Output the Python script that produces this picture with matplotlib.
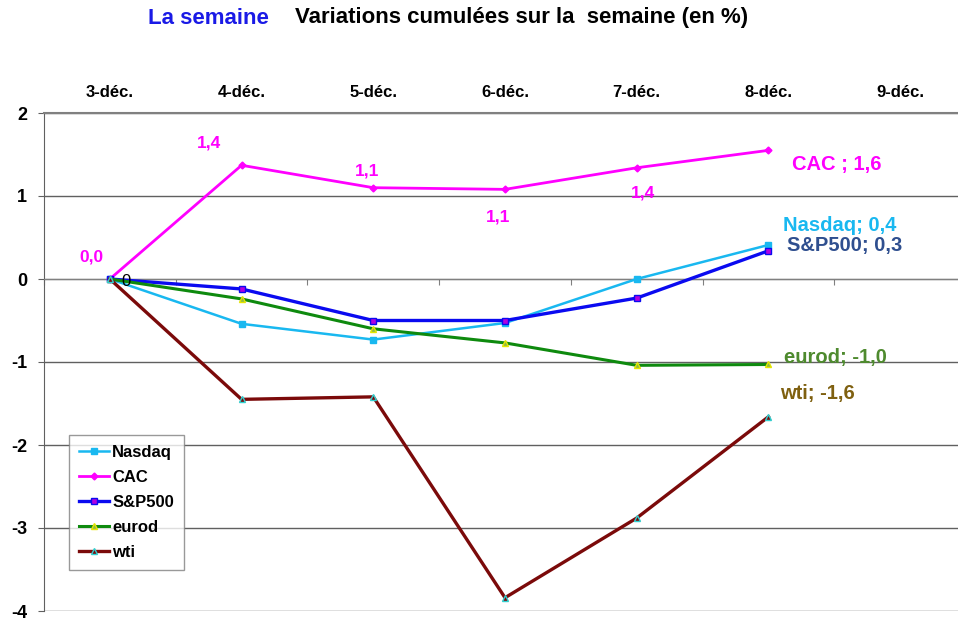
import numpy as np
import matplotlib.pyplot as plt

plt.rcParams['font.family'] = ['Liberation Sans', 'DejaVu Sans']
plt.rcParams['font.weight'] = 'bold'
plt.rcParams['axes.unicode_minus'] = False

days = ['3-déc.', '4-déc.', '5-déc.', '6-déc.', '7-déc.', '8-déc.', '9-déc.']
nasdaq = [0.0, -0.54, -0.73, -0.53, 0.0, 0.41]
cac = [0.0, 1.37, 1.10, 1.08, 1.34, 1.55]
sp500 = [0.0, -0.12, -0.50, -0.50, -0.23, 0.34]
eurod = [0.0, -0.24, -0.60, -0.77, -1.04, -1.03]
wti = [0.0, -1.45, -1.42, -3.84, -2.88, -1.66]

cac_labels = ['0,0', '1,4', '1,1', '1,1', '1,4']
end_labels = ['Nasdaq; 0,4', 'CAC ; 1,6', 'S&P500; 0,3', 'eurod; -1,0', 'wti; -1,6']

fig = plt.figure(figsize=(9.58, 6.21), dpi=100)
ax = fig.add_axes([44 / 958, 10 / 621, 922 / 958, 498 / 621])

x = np.arange(len(nasdaq))
ax.plot(x, nasdaq, color='#19B8F0', lw=1.8, marker='s', ms=5,
        mfc='#19B8F0', mec='#19B8F0', label='Nasdaq', zorder=3)
ax.plot(x, cac, color='#FF00FF', lw=2.0, marker='D', ms=3.5,
        mfc='#FF00FF', mec='#FF00FF', label='CAC', zorder=3)
ax.plot(x, sp500, color='#0A0AF0', lw=2.4, marker='s', ms=4.5,
        mfc='#B000E0', mec='#0A0AF0', label='S&P500', zorder=3)
ax.plot(x, eurod, color='#0E8A0E', lw=2.2, marker='^', ms=5,
        mfc='#8DB84A', mec='#E6E600', label='eurod', zorder=3)
ax.plot(x, wti, color='#7B0A0A', lw=2.4, marker='^', ms=5,
        mfc='#7B0A0A', mec='#30D0D0', label='wti', zorder=3)

ax.set_xlim(-0.5, 6.5)
ax.set_ylim(-4, 2)
ax.set_yticks(range(-4, 3))
ax.yaxis.grid(True, color='#606060', lw=1.0)
ax.set_axisbelow(True)
ax.tick_params(axis='y', labelsize=13, length=4, color='#606060', pad=8)

# x axis line crossing at 0, labels on top
ax.spines['bottom'].set_position(('data', 0))
ax.spines['bottom'].set_color('#808080')
ax.set_xticks(np.arange(-0.5, 7, 1.0))
ax.set_xticklabels([])
ax.tick_params(axis='x', length=4, color='#808080', direction='out')
ax.spines['top'].set_color('#808080')
ax.spines['top'].set_linewidth(1.5)
ax.spines['right'].set_visible(False)
ax.spines['left'].set_color('#606060')

sec = ax.secondary_xaxis('top')
sec.set_xticks(range(len(days)))
sec.set_xticklabels(days, fontsize=12, fontweight='bold')
sec.tick_params(length=0, pad=9)
sec.spines['top'].set_visible(False)

# CAC value labels
cac_offsets = [(-0.14, 0.27), (-0.25, 0.27), (-0.05, 0.20), (-0.05, -0.33), (0.05, -0.30)]
for i, lab in enumerate(cac_labels):
    dx, dy = cac_offsets[i]
    ax.text(i + dx, cac[i] + dy, lab, color='#FF00FF', fontsize=12.5,
            fontweight='bold', ha='center', va='center')
ax.text(0.12, -0.03, '0', color='black', fontsize=12, fontweight='normal',
        ha='center', va='center')

# end labels
ax.text(5.18, 1.38, end_labels[1], color='#FF00FF', fontsize=14.5, ha='left', va='center')
ax.text(5.11, 0.64, end_labels[0], color='#19B8F0', fontsize=14.5, ha='left', va='center')
ax.text(5.14, 0.40, end_labels[2], color='#2F4F8F', fontsize=14.5, ha='left', va='center')
ax.text(5.12, -0.94, end_labels[3], color='#4E8A2E', fontsize=14.5, ha='left', va='center')
ax.text(5.09, -1.38, end_labels[4], color='#7F6010', fontsize=14.5, ha='left', va='center')

leg = ax.legend(loc='upper left', bbox_to_anchor=(69 / 958, 1 - 435 / 621),
                bbox_transform=fig.transFigure, fancybox=False, frameon=True,
                edgecolor='#808080', fontsize=12, handlelength=1.8,
                handletextpad=0.2, labelspacing=0.6, borderpad=0.6,
                borderaxespad=0)
leg.get_frame().set_linewidth(1.0)

fig.text(148 / 958, 1 - 18 / 621, 'La semaine', color='#1A1AE6', fontsize=16,
         fontweight='bold', va='center', ha='left')
fig.text(295 / 958, 1 - 18 / 621, 'Variations cumulées sur la  semaine (en %)',
         color='black', fontsize=16, fontweight='bold', va='center', ha='left')

fig.savefig('out.png', dpi=100)
